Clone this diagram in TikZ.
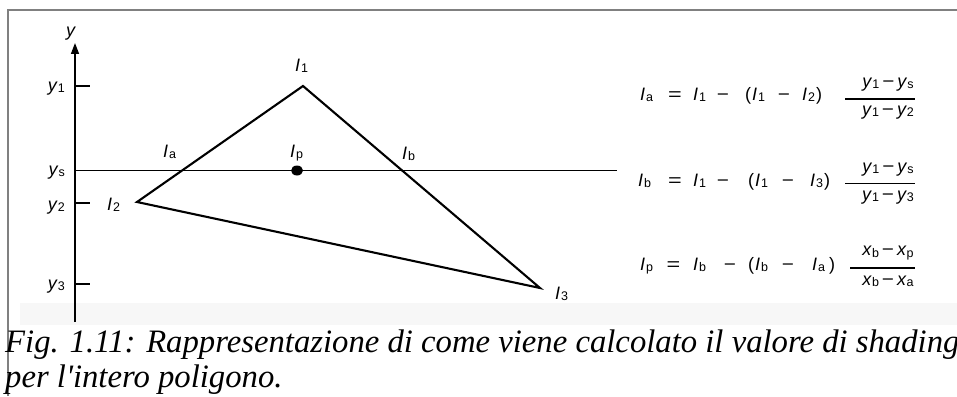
\documentclass[tikz,border=0pt]{standalone}
\usepackage{fontspec}
\setmainfont{Liberation Serif}
\newfontfamily\eqfont{Liberation Sans}
\newfontfamily\capfont{Liberation Serif}
\usetikzlibrary{arrows.meta}

\newcommand\sbs[1]{\raisebox{-1.5pt}{\fontsize{12.5}{12.5}\selectfont #1}}
\newcommand\Iv[1]{\textit{I}\kern0.8pt\sbs{#1}}
\newcommand\yv[1]{\textit{y}\sbs{#1}}
\newcommand\xv[1]{\textit{x}\sbs{#1}}
\newcommand\eqs{\scalebox{1.3}[1]{=}}
\newcommand\mns{\scalebox{1.15}[1]{\char"2212}}

\tikzset{
  lbl/.style={font=\eqfont\fontsize{18}{18}\selectfont, inner sep=0pt, anchor=base west},
  sym/.style={font=\eqfont\fontsize{18}{18}\selectfont, inner sep=0pt, anchor=base},
  frc/.style={font=\eqfont\fontsize{18}{18}\selectfont, inner sep=0pt, anchor=base},
  captext/.style={font=\capfont\itshape\fontsize{32.7}{32.7}\selectfont, inner sep=0pt, anchor=base west},
  tri/.style={line width=2.1pt},
  axisline/.style={line width=1.5pt},
  tickline/.style={line width=1.3pt},
  fracbar/.style={line width=1.1pt},
}

\begin{document}
\begin{tikzpicture}[x=1pt,y=-1pt]
\useasboundingbox (0,0) rectangle (957,396);
\fill[white] (0,0) rectangle (957,396);
% faint grey strip at bottom of the drawing
\fill[black!3] (20,303) rectangle (957,325);
% page frame
\draw[line width=1.5pt, gray] (8,396) -- (8,10) -- (957,10);

% axis
\coordinate (ax0) at (75,322);
\coordinate (axtop) at (75,43);
\draw[axisline, -{Triangle[length=11pt,width=8pt]}] (ax0) -- (axtop);
\node[lbl] (ylab) at (66,37) {\textit{y}};

% ticks
\coordinate (t1a) at (75,86);   \coordinate (t1b) at (90,86);
\coordinate (t2a) at (75,203);  \coordinate (t2b) at (90,203);
\coordinate (t3a) at (75,284);  \coordinate (t3b) at (90,284);
\draw[tickline] (t1a) -- (t1b);
\draw[tickline] (t2a) -- (t2b);
\draw[tickline] (t3a) -- (t3b);
\node[lbl, anchor=base east] (ly1) at (65,91) {\yv{1}};
\node[lbl, anchor=base east] (lys) at (65,175) {\yv{s}};
\node[lbl, anchor=base east] (ly2) at (65,210) {\yv{2}};
\node[lbl, anchor=base east] (ly3) at (65,289) {\yv{3}};

% scan line
\coordinate (sA) at (75,170.5);
\coordinate (sB) at (617,170.5);
\draw[tickline] (sA) -- (sB);

% triangle
\coordinate (v1) at (303,86);
\coordinate (v2) at (137,202);
\coordinate (v3) at (540,288);
\draw[tri] (v1) -- (v2) -- (v3) -- cycle;

% point Ip
\fill (297,170.5) ellipse [x radius=6pt, y radius=5pt];
\coordinate (pp) at (297,170.5);

% vertex / point labels
\node[lbl] (lI1) at (295,71) {\Iv{1}};
\node[lbl] (lI2) at (107,210) {\Iv{2}};
\node[lbl] (lI3) at (555,299) {\Iv{3}};
\node[lbl] (lIa) at (163,157) {\Iv{a}};
\node[lbl] (lIp) at (290,157) {\Iv{p}};
\node[lbl] (lIb) at (402,159) {\Iv{b}};

% ---------- formula 1 ----------
\node[lbl] (f1a) at (640,100) {\Iv{a}};
\node[sym] (f1b) at (675,100) {\eqs};
\node[lbl] (f1c) at (693,100) {\Iv{1}};
\node[sym] (f1d) at (723,100) {\mns};
\node[lbl] (f1e) at (745,100) {(};
\node[lbl] (f1f) at (752,100) {\Iv{1}};
\node[sym] (f1g) at (784,100) {\mns};
\node[lbl] (f1h) at (802,100) {\Iv{2}};
\node[lbl] (f1i) at (816,100) {)};
\coordinate (f1l) at (845,99);
\coordinate (f1r) at (915,99);
\draw[fracbar] (f1l) -- (f1r);
\node[frc] (f1n) at (888,87.5) {\yv{1}\hspace{3pt}\mns\hspace{3pt}\yv{s}};
\node[frc] (f1m) at (888,115) {\yv{1}\hspace{3pt}\mns\hspace{3pt}\yv{2}};

% ---------- formula 2 ----------
\node[lbl] (f2a) at (638,186) {\Iv{b}};
\node[sym] (f2b) at (675,186) {\eqs};
\node[lbl] (f2c) at (693,186) {\Iv{1}};
\node[sym] (f2d) at (723,186) {\mns};
\node[lbl] (f2e) at (748,186) {(};
\node[lbl] (f2f) at (755,186) {\Iv{1}};
\node[sym] (f2g) at (788,186) {\mns};
\node[lbl] (f2h) at (810,186) {\Iv{3}};
\node[lbl] (f2i) at (824,186) {)};
\coordinate (f2l) at (845,183.5);
\coordinate (f2r) at (915,183.5);
\draw[fracbar] (f2l) -- (f2r);
\node[frc] (f2n) at (888,172) {\yv{1}\hspace{3pt}\mns\hspace{3pt}\yv{s}};
\node[frc] (f2m) at (888,200) {\yv{1}\hspace{3pt}\mns\hspace{3pt}\yv{3}};

% ---------- formula 3 ----------
\node[lbl] (f3a) at (640,270) {\Iv{p}};
\node[sym] (f3b) at (673.5,270) {\eqs};
\node[lbl] (f3c) at (693,270) {\Iv{b}};
\node[sym] (f3d) at (730,270) {\mns};
\node[lbl] (f3e) at (748,270) {(};
\node[lbl] (f3f) at (755,270) {\Iv{b}};
\node[sym] (f3g) at (788,270) {\mns};
\node[lbl] (f3h) at (812,270) {\Iv{a}};
\node[lbl] (f3i) at (829,270) {)};
\coordinate (f3l) at (850,268);
\coordinate (f3r) at (915,268);
\draw[fracbar] (f3l) -- (f3r);
\node[frc] (f3n) at (888,255.5) {\xv{b}\hspace{3pt}\mns\hspace{3pt}\xv{p}};
\node[frc] (f3m) at (888,285) {\xv{b}\hspace{3pt}\mns\hspace{3pt}\xv{a}};

% ---------- caption ----------
\node[captext] (cap1) at (5,352) {Fig. 1.11: Rappresentazione di come viene calcolato il valore di shading};
\node[captext] (cap2) at (5,387) {per l'intero poligono.};
\end{tikzpicture}
\end{document}
